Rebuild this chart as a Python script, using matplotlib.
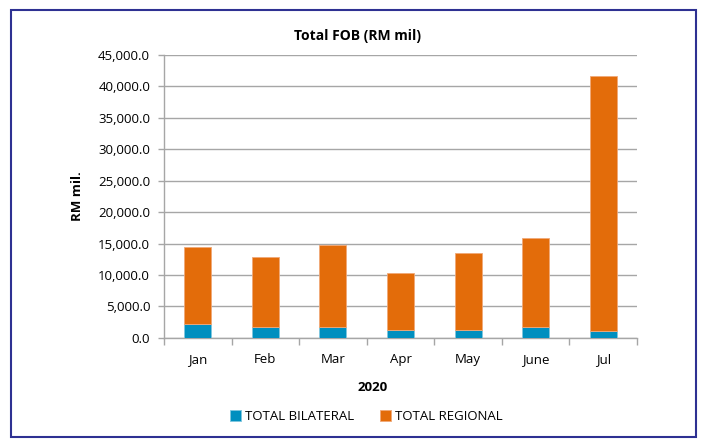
import matplotlib
matplotlib.use("Agg")
import matplotlib.pyplot as plt
from matplotlib.patches import Rectangle
import numpy as np

plt.rcParams["font.family"] = ["Open Sans", "DejaVu Sans"]

months = ["Jan", "Feb", "Mar", "Apr", "May", "June", "Jul"]
bilateral = [2200, 1700, 1700, 1200, 1250, 1700, 1150]
regional = [12300, 11200, 13100, 9100, 12250, 14200, 40450]

BLUE = "#008fbf"
ORANGE = "#e36c0a"
GRID = "#a6a6a6"
FS = 9.5

fig = plt.figure(figsize=(7.07, 4.47), dpi=100)
ax = fig.add_axes([0.232, 0.244, 0.669, 0.633])

x = np.arange(len(months))
ax.bar(x, bilateral, width=0.4, color=BLUE, edgecolor="#7fc6df", linewidth=0.6,
       label="TOTAL BILATERAL", zorder=3)
ax.bar(x, regional, width=0.4, bottom=bilateral, color=ORANGE, edgecolor="#f0a878",
       linewidth=0.6, label="TOTAL REGIONAL", zorder=3)

ax.set_xlim(-0.5, len(months) - 0.5)
ax.set_ylim(0, 45000)
ax.set_yticks(np.arange(0, 45001, 5000))
ax.set_yticklabels([f"{v:,.1f}" for v in np.arange(0, 45001, 5000)], fontsize=FS)
ax.yaxis.grid(True, color=GRID, linewidth=1.0, zorder=0)
ax.set_axisbelow(True)

# month labels centred, tick marks between categories
ax.set_xticks(x)
ax.set_xticklabels(months, fontsize=FS)
ax.tick_params(axis="x", length=0, pad=11)
ax.set_xticks(np.arange(-0.5, len(months)), minor=True)
ax.tick_params(axis="x", which="minor", length=5, color=GRID, width=1.0)
ax.tick_params(axis="y", length=4, color=GRID, width=1.0, pad=6)

for s in ["top", "right"]:
    ax.spines[s].set_visible(False)
ax.spines["left"].set_color(GRID)
ax.spines["bottom"].set_color(GRID)
ax.spines["left"].set_linewidth(1.0)
ax.spines["bottom"].set_linewidth(1.0)

# title and year label sit left of the plot centre, as in the source
ax.set_title("Total FOB (RM mil)", fontsize=FS + 0.5, fontweight="bold", pad=11, x=0.408)
ax.set_ylabel("RM mil.", fontsize=FS, fontweight="bold", labelpad=10)
ax.set_xlabel("2020", fontsize=FS, fontweight="bold", labelpad=11)
ax.xaxis.label.set_x(0.442)

fig.legend(loc="center", bbox_to_anchor=(0.518, 0.068), ncol=2, frameon=False,
           fontsize=FS, handlelength=0.8, handleheight=0.8, handletextpad=0.3,
           columnspacing=2.0)

# outer frame
fig.patches.append(Rectangle((0.015, 0.022), 0.97, 0.956, transform=fig.transFigure,
                             fill=False, edgecolor="#2e3192", linewidth=1.5))

fig.savefig("out.png", dpi=100)
